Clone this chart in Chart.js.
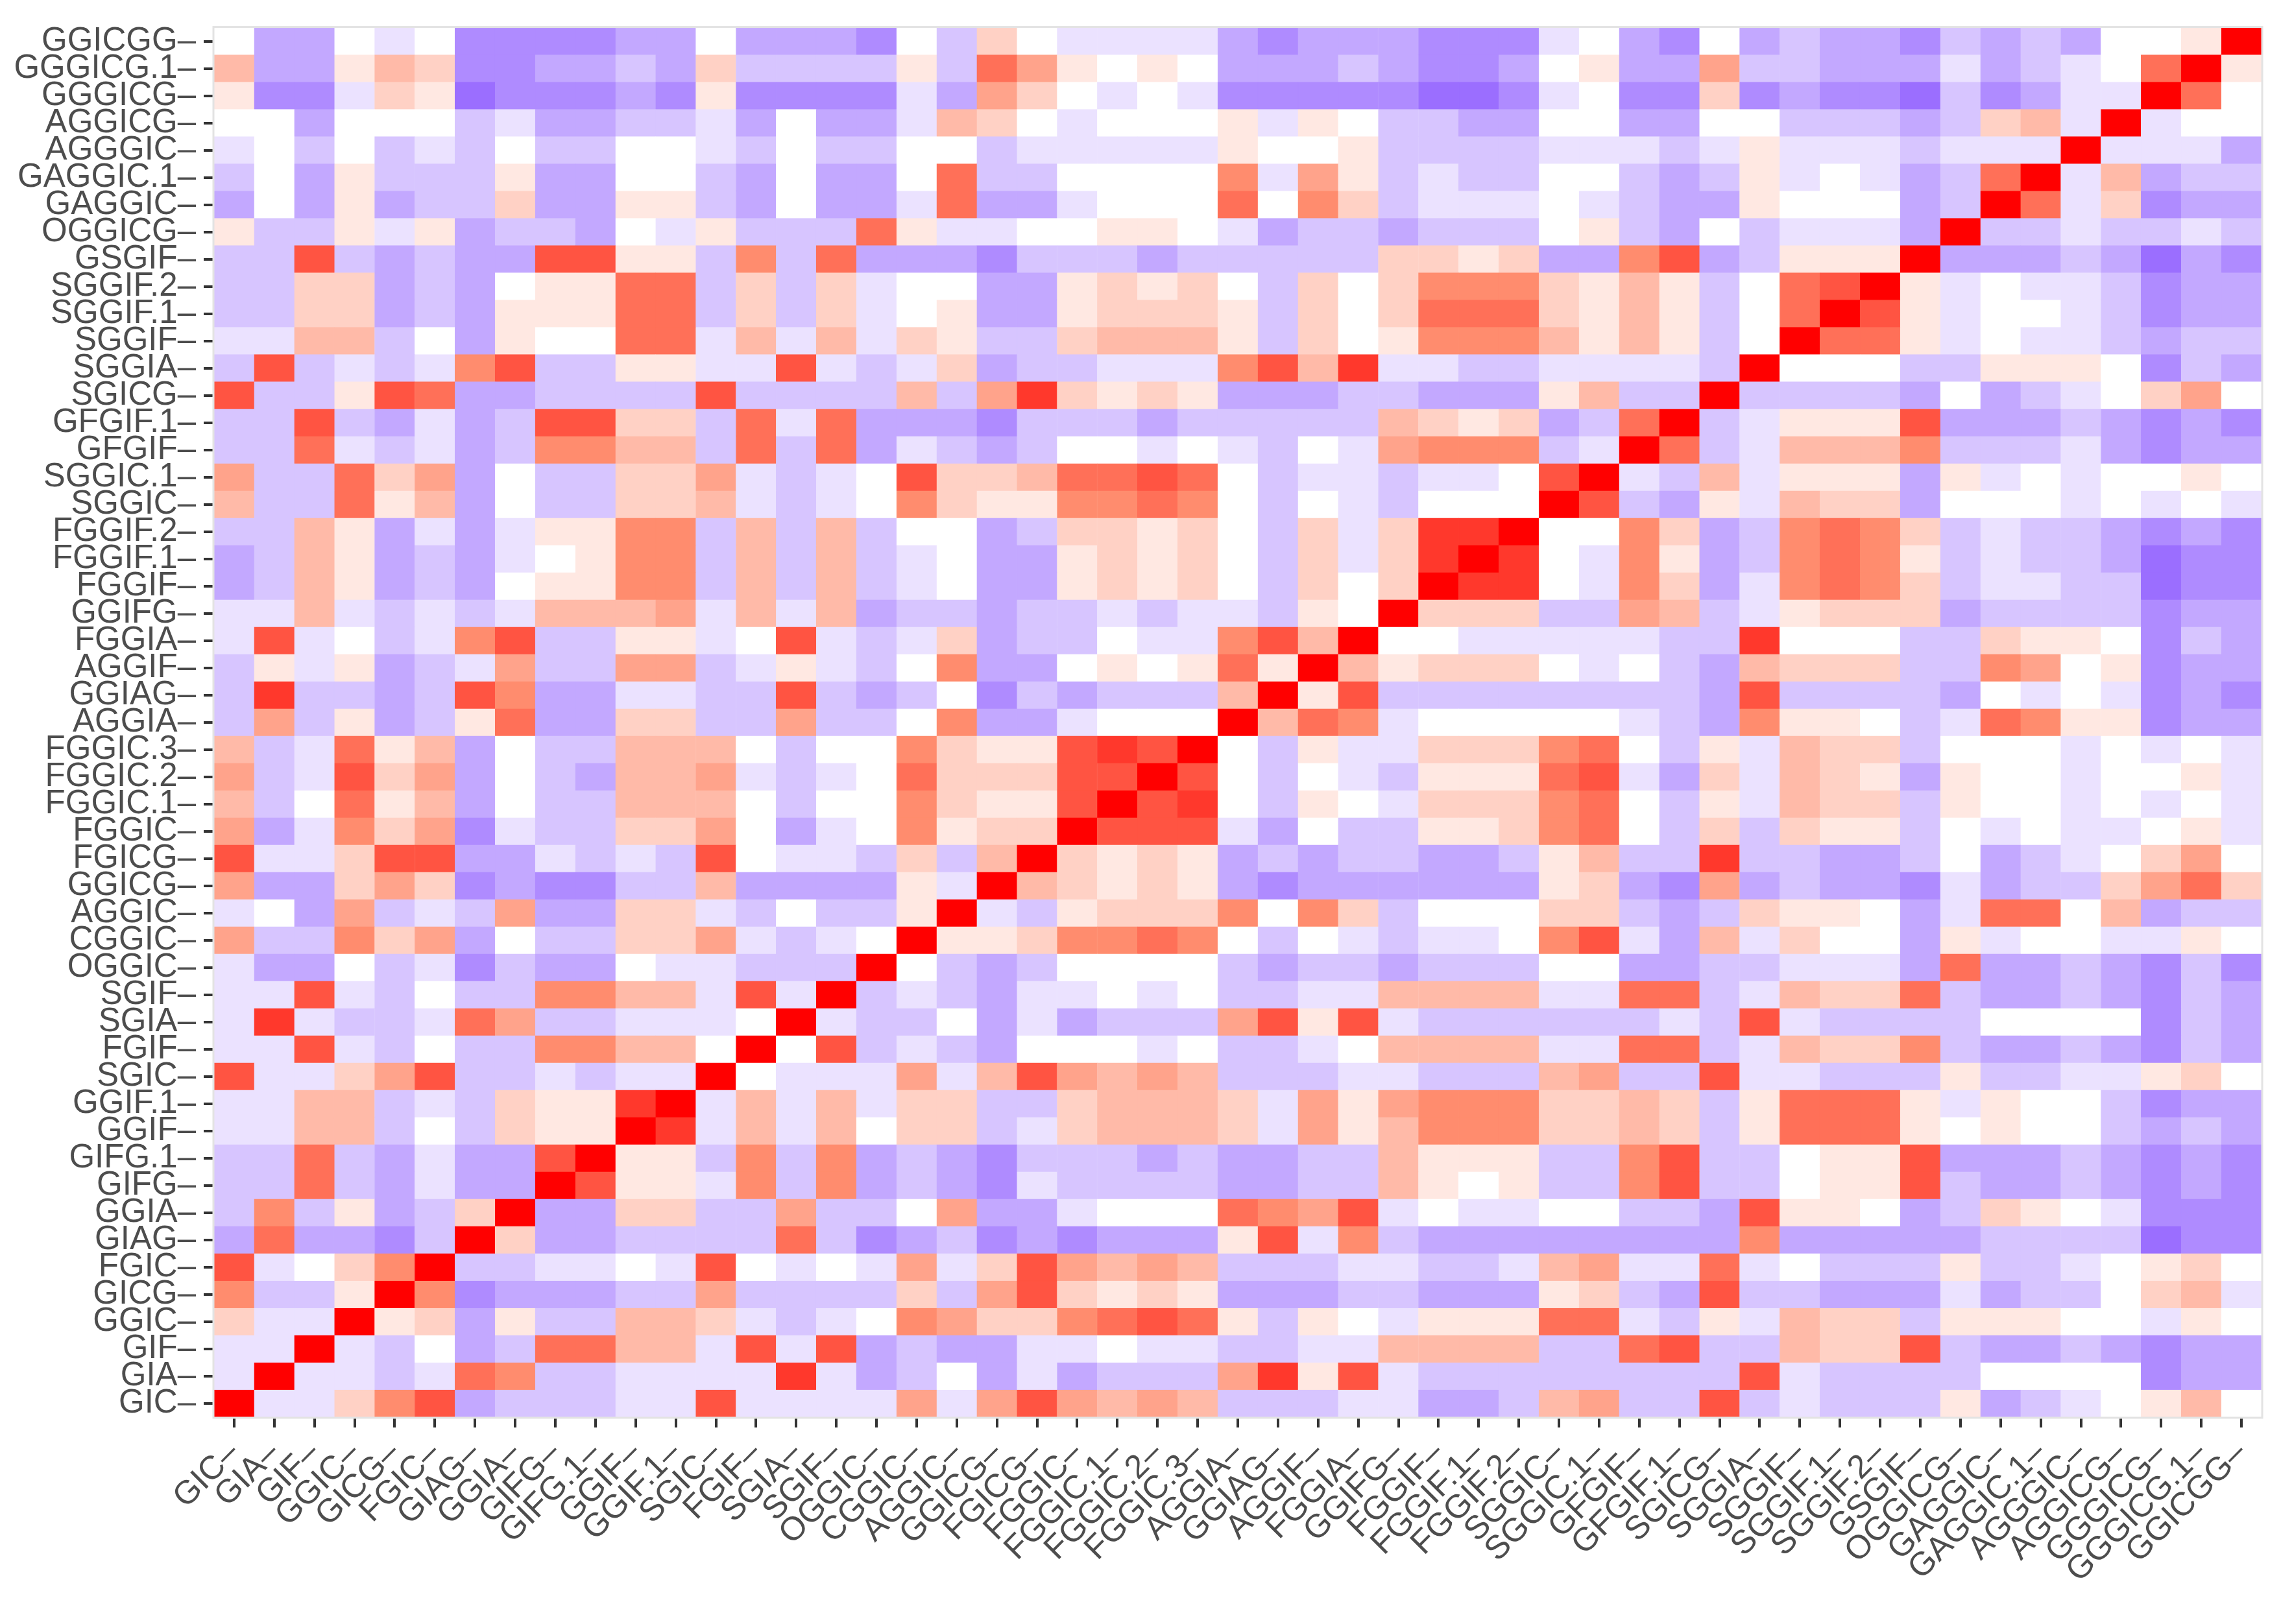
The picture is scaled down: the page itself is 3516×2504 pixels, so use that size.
<!DOCTYPE html>
<html><head><meta charset="utf-8">
<script src="https://cdn.jsdelivr.net/npm/chart.js@4"></script>
<style>html,body{margin:0;padding:0;background:#fff}#c{display:block}</style>
</head><body>
<canvas id="c" width="3516" height="2504"></canvas>
<script>
const labels = ["GIC","GIA","GIF","GGIC","GICG","FGIC","GIAG","GGIA","GIFG","GIFG.1","GGIF","GGIF.1","SGIC","FGIF","SGIA","SGIF","OGGIC","CGGIC","AGGIC","GGICG","FGICG","FGGIC","FGGIC.1","FGGIC.2","FGGIC.3","AGGIA","GGIAG","AGGIF","FGGIA","GGIFG","FGGIF","FGGIF.1","FGGIF.2","SGGIC","SGGIC.1","GFGIF","GFGIF.1","SGICG","SGGIA","SGGIF","SGGIF.1","SGGIF.2","GSGIF","OGGICG","GAGGIC","GAGGIC.1","AGGGIC","AGGICG","GGGICG","GGGICG.1","GGICGG"];
// lower triangle, row i has columns 0..i. X=1, digits=+0.d, a..e = -0.1..-0.5
const lowerRows = [
"X","aX","aaX","2aaX","5bb1X","7a025X","c6ccdbX","b5b1cb2X","bb6bcaccX","bb6bcacc7X",
"aa33b0b211X","aa33bab2118X","7aa247bbabaaX","aa7ab0bb55330X","a8abba64bbaaa0X","aa7ab0bb5533a7aX",
"acc0badbcc0aabbbX","4bb524c0bb224aba0X","a0c4bab4cc22ab0bb1X","4cc242dcddbb3cccc1aX",
"7aa277ccabab70aab2b3X","4ca524dabb2240ca05122X","3b0613c0bb3330b0052117X","4ba724c0bc334aba0622277X",
"3ba613c0bb3330b005211787X","b4b1cb16cc22bb4bb05cca000X","b8bbcb75ccaabb7bcb0dbcbbb3X",
"b1a1cba4bb44ba1ab05cc010161X","a7a0ba57bb11a07aba2cbb0aa573X","aa3ababa3334a3a3cbbcbbabaab10X",
"cb31cbc01155b3b3ba0cc12120b202X","cb31cbca0155b3b3ba0cc12120b2a28X","bb31caca1155b3b3b00cb22120b2a288X",
"3bb613c0bb223aba0521155650b0ab000X","4bb624c0bb224aba0722366760baabaa07X",
"bb6abacb5533b6b6cabcb00a0ab0a4555baX","bb7bcacb7722b6a6cccdbbbcbbbbb3212cb6X",
"7bb176ccbbbb7bbbb3b482121cccbbccc13bbX","b7baba57bb11aa7aba2cbbaaa5738aabbaaaabX",
"aa33b0c10066a3a3a21bb23331b2015553131b0X","bb22cbc11166b2b2a01cc12221b2026662131b06X",
"bb22cbc01166b2b2a00cc12120b2025552131b067X","bb7bcbcc7711b5b6cccdbbbcbbbbb2212cc57cb111X",
"1bb1a1cbbc0a1bbb61aa00110acbbcbbb01bc0baaacX","c0c1cbb2cc11bc0cca6cca0006052baaa0abcc1000cbX",
"b0c1bbb1cc00bc0cc06bb00005a41babb00bcb1a0acb6X","a0b0bab0bb00ab0bb00baaaaa1001bbbbaaaba1aaabaaaX",
"00c000baccbbac0cca320a0001a10bbcc00cc00bbbcb23aX","1dda21edddcd1ddddac420a0adddddeeda0dd2dcddebdcaaX",
"3cc132ddccbc2bbbb1b641010cccbcddc01cc4bbcccacba06X","0cc0a0ddddcc0cccd0b20aaaacdcccddda0cd0cbccdbcbc001X"
];
const negLevels = {a:-0.1,b:-0.2,c:-0.3,d:-0.4,e:-0.5};
function decode(ch){ if(ch==='X') return 1; if(negLevels[ch]!==undefined) return negLevels[ch]; return parseInt(ch,10)/10; }
const n = labels.length;
const values = labels.map((_,i)=>labels.map((_,j)=> i>=j ? decode(lowerRows[i][j]) : decode(lowerRows[j][i])));
function lerp(a,b,t){return a.map((v,k)=>Math.round(v+(b[k]-v)*t));}
function color(v){
  let c;
  if(v>=0){ c = v<=0.5 ? lerp([255,255,255],[255,140,110],v/0.5) : lerp([255,140,110],[255,0,0],(v-0.5)/0.5); }
  else { c = lerp([255,255,255],[155,110,255],Math.min(1,-v/0.5)); }
  return `rgb(${c[0]},${c[1]},${c[2]})`;
}
const datasets = labels.map((_,i)=>{
  const cols = labels.map((_,j)=>color(values[i][j]));
  return {label:labels[i], data:labels.map(()=>[i,i+1]), backgroundColor:cols, borderColor:cols, borderWidth:1, borderSkipped:false, barPercentage:1, categoryPercentage:1, grouped:false};
});
const tickFont = {family:'"Liberation Sans", Arial, sans-serif', size:51};
const frame = {id:'frame', afterDatasetsDraw(chart){const a=chart.chartArea,ctx=chart.ctx;ctx.save();ctx.strokeStyle='#e3e3e3';ctx.lineWidth=3;ctx.strokeRect(a.left-1,a.top-1,a.right-a.left+2,a.bottom-a.top+2);ctx.restore();}};
new Chart(document.getElementById('c'),{
  type:'bar',
  data:{labels, datasets},
  plugins:[frame],
  options:{
    responsive:false, animation:false, devicePixelRatio:1,
    layout:{padding:{top:30,right:30,left:0,bottom:0}},
    plugins:{legend:{display:false},tooltip:{enabled:false}},
    scales:{
      x:{type:'category', afterFit:(s)=>{s.height=319;}, grid:{offset:false, drawOnChartArea:false, drawTicks:true, tickLength:16, color:'#333', lineWidth:4}, border:{display:false},
         ticks:{color:'#4d4d4d', font:tickFont, maxRotation:45, minRotation:45, autoSkip:false, padding:10, callback:(v,i)=>labels[i]+'–'}},
      y:{type:'linear', min:0, max:n, afterFit:(s)=>{s.width=330;}, grid:{drawOnChartArea:false, drawTicks:true, tickLength:16, color:'#333', lineWidth:4}, border:{display:false},
         afterBuildTicks:(axis)=>{axis.ticks = labels.map((_,i)=>({value:i+0.5}));},
         ticks:{color:'#4d4d4d', font:tickFont, autoSkip:false, padding:12, callback:(v)=>labels[Math.round(v-0.5)]+'–'}}
    }
  }
});
</script></body></html>
